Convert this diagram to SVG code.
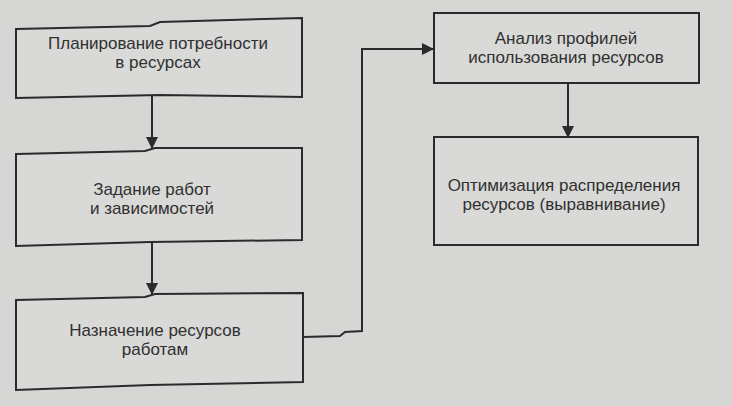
<svg xmlns="http://www.w3.org/2000/svg" width="732" height="406" viewBox="0 0 732 406">
<defs>
<marker id="ah" viewBox="0 0 12 12" refX="11" refY="6" markerWidth="12" markerHeight="12" markerUnits="userSpaceOnUse" orient="auto">
<path d="M0,0 L12,6 L0,12 Z" fill="#2b2b2b"/>
</marker>
</defs>
<style>
.box{fill:#d9d9d7;stroke:#2b2b2b;stroke-width:2}
.lbl{font-family:"Liberation Sans",Arial,sans-serif;font-size:17px;fill:#303030;text-anchor:middle}
.con{fill:none;stroke:#2b2b2b;stroke-width:2}
</style>
<rect width="732" height="406" fill="#d6d6d4"/>
<g id="n1">
<path class="box" d="M16,29 L150,26 L160,22 L302,18 L302,97 L160,95 L16,98 Z"/>
<text class="lbl" x="158" y="49">Планирование потребности</text>
<text class="lbl" x="158" y="68">в ресурсах</text>
</g>
<g id="n2">
<path class="box" d="M16,154 L145,151 L155,148 L302,148 L302,240 L150,242 L16,246 Z"/>
<text class="lbl" x="152" y="195">Задание работ</text>
<text class="lbl" x="152" y="214">и зависимостей</text>
</g>
<g id="n3">
<path class="box" d="M16,300 L145,297 L155,294 L303,293 L303,382 L150,385 L16,390 Z"/>
<text class="lbl" x="155" y="336">Назначение ресурсов</text>
<text class="lbl" x="155" y="355">работам</text>
</g>
<g id="n4">
<rect class="box" x="434" y="13" width="265" height="70"/>
<text class="lbl" x="566" y="44">Анализ профилей</text>
<text class="lbl" x="566" y="63">использования ресурсов</text>
</g>
<g id="n5">
<rect class="box" x="434" y="137" width="264" height="108"/>
<text class="lbl" x="564" y="191">Оптимизация распределения</text>
<text class="lbl" x="564" y="210">ресурсов (выравнивание)</text>
</g>
<g id="connectors">
<line class="con" x1="152" y1="96" x2="152" y2="148" marker-end="url(#ah)"/>
<line class="con" x1="152" y1="242" x2="152" y2="294" marker-end="url(#ah)"/>
<path class="con" d="M303,337 L340,336 L345,332 L362,331 L362,49 L433,49" marker-end="url(#ah)"/>
<line class="con" x1="568" y1="83" x2="568" y2="137" marker-end="url(#ah)"/>
</g>
</svg>
